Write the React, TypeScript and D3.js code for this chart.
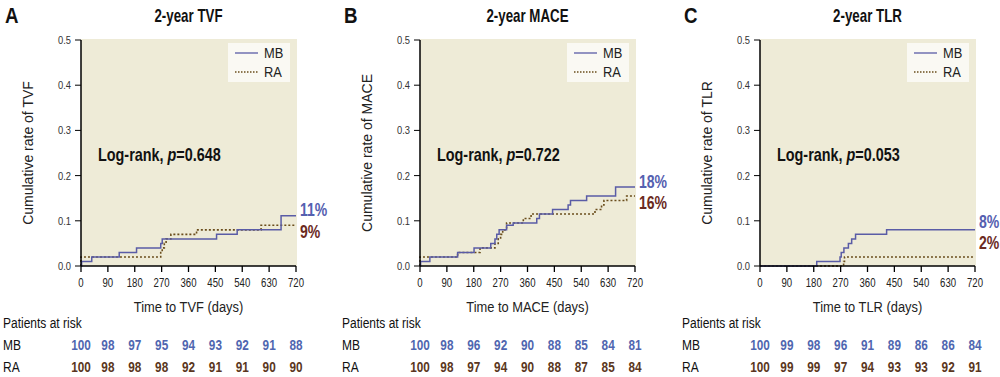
import React from "react";
import * as d3 from "d3";

// ---------- data ----------
const riskTimes = [0, 90, 180, 270, 360, 450, 540, 630, 720];
const xTicks = [0, 90, 180, 270, 360, 450, 540, 630, 720];
const yTicks = [0.0, 0.1, 0.2, 0.3, 0.4, 0.5];

// TVF
const tvfMbTime = [0, 2, 36, 128, 186, 267, 272, 454, 523, 670, 720];
const tvfMbRate = [0, 0.01, 0.02, 0.03, 0.04, 0.05, 0.06, 0.07, 0.08, 0.111, 0.111];
const tvfRaTime = [0, 0, 267, 272, 279, 285, 301, 387, 603, 720];
const tvfRaRate = [0, 0.02, 0.03, 0.04, 0.05, 0.06, 0.07, 0.08, 0.09, 0.09];
const tvfRiskMb = [100, 98, 97, 95, 94, 93, 92, 91, 88];
const tvfRiskRa = [100, 98, 98, 98, 92, 91, 91, 90, 90];

// MACE
const maceMbTime = [0, 2, 33, 126, 181, 237, 251, 257, 265, 290, 312, 391, 400, 444, 496, 504, 558, 655, 720];
const maceMbRate = [0, 0.01, 0.02, 0.03, 0.04, 0.05, 0.06, 0.07, 0.08, 0.09, 0.095, 0.105, 0.115, 0.125, 0.135, 0.145, 0.155, 0.175, 0.175];
const maceRaTime = [0, 0, 126, 201, 251, 262, 270, 277, 290, 346, 372, 586, 608, 616, 692, 720];
const maceRaRate = [0, 0.02, 0.03, 0.04, 0.05, 0.06, 0.07, 0.08, 0.095, 0.105, 0.115, 0.125, 0.135, 0.145, 0.155, 0.155];
const maceRiskMb = [100, 98, 96, 92, 90, 88, 85, 84, 81];
const maceRiskRa = [100, 98, 97, 94, 90, 88, 87, 85, 84];

// TLR
const tlrMbTime = [0, 190, 268, 272, 281, 296, 307, 320, 424, 720];
const tlrMbRate = [0, 0.01, 0.02, 0.03, 0.04, 0.05, 0.06, 0.07, 0.08, 0.08];
const tlrRaTime = [0, 280, 283, 720];
const tlrRaRate = [0, 0.01, 0.02, 0.02];
const tlrRiskMb = [100, 99, 98, 96, 91, 89, 86, 86, 84];
const tlrRiskRa = [100, 99, 99, 97, 94, 93, 93, 92, 91];

const panelLetters = ["A", "B", "C"];
const panelTitles = ["2-year TVF", "2-year MACE", "2-year TLR"];
const endpointNames = ["TVF", "MACE", "TLR"];
const pValues = ["0.648", "0.722", "0.053"];
const mbPercents = ["11%", "18%", "8%"];
const raPercents = ["9%", "16%", "2%"];

// ---------- style ----------
const FONT = "'Liberation Sans', Arial, Helvetica, sans-serif";
const MB_COLOR = "#5a5ca6";
const RA_COLOR = "#6a4d1c";
const MB_TEXT = "#4f66b0";
const RA_TEXT = "#5a3620";
const PCT_MB = "#5560b0";
const PCT_RA = "#6b2a1e";
const FILL = "#eeebd7";

const panels = [
  { left: 81, mb: [tvfMbTime, tvfMbRate], ra: [tvfRaTime, tvfRaRate], riskMb: tvfRiskMb, riskRa: tvfRiskRa, pctMbY: 216, pctRaY: 238 },
  { left: 420, mb: [maceMbTime, maceMbRate], ra: [maceRaTime, maceRaRate], riskMb: maceRiskMb, riskRa: maceRiskRa, pctMbY: 188, pctRaY: 209 },
  { left: 760, mb: [tlrMbTime, tlrMbRate], ra: [tlrRaTime, tlrRaRate], riskMb: tlrRiskMb, riskRa: tlrRiskRa, pctMbY: 228, pctRaY: 249 },
];

const PW = 215;
const TOP = 40;
const BOTTOM = 266;

type TProps = {
  x: number;
  y: number;
  sx?: number;
  size: number;
  bold?: boolean;
  anchor?: "start" | "middle" | "end";
  fill?: string;
  children: React.ReactNode;
};

function T({ x, y, sx = 0.78, size, bold, anchor = "start", fill = "#111", children }: TProps) {
  return (
    <text
      transform={`translate(${x},${y}) scale(${sx},1)`}
      textAnchor={anchor}
      fontFamily={FONT}
      fontSize={size}
      fontWeight={bold ? "bold" : "normal"}
      fill={fill}
    >
      {children}
    </text>
  );
}

function Panel({ i }: { i: number }) {
  const p = panels[i];
  const x = d3.scaleLinear().domain([0, 720]).range([p.left, p.left + PW]);
  const y = d3.scaleLinear().domain([0, 0.5]).range([BOTTOM, TOP]);
  const line = d3
    .line<[number, number]>()
    .x((d) => x(d[0]))
    .y((d) => y(d[1]))
    .curve(d3.curveStepAfter);
  const mbPts = p.mb[0].map((t, k) => [t, p.mb[1][k]] as [number, number]);
  const raPts = p.ra[0].map((t, k) => [t, p.ra[1][k]] as [number, number]);
  const cx = p.left + PW / 2;
  const legX = p.left + PW - 68;
  const labelX = p.left - 78;
  return (
    <g>
      <T x={p.left - 76} y={23} size={22} sx={0.85} bold>
        {panelLetters[i]}
      </T>
      <T x={cx} y={22} size={18} sx={0.74} bold anchor="middle">
        {panelTitles[i]}
      </T>
      <rect x={p.left} y={TOP - 1} width={PW + 1} height={BOTTOM - TOP + 1} fill={FILL} />
      {/* legend */}
      <rect x={legX} y={43} width={62} height={39} fill="#faf9f3" />
      <line x1={legX + 7} x2={legX + 30} y1={53} y2={53} stroke={MB_COLOR} strokeWidth={1.3} />
      <T x={legX + 36} y={58} size={14} sx={0.92} fill="#222">MB</T>
      <line x1={legX + 7} x2={legX + 30} y1={72} y2={72} stroke={RA_COLOR} strokeWidth={1.3} strokeDasharray="1.5,1.5" />
      <T x={legX + 36} y={77} size={14} sx={0.92} fill="#222">RA</T>
      {/* log-rank */}
      <T x={p.left + 17} y={161} size={18} sx={0.8} bold>
        Log-rank, <tspan fontStyle="italic">p</tspan>={pValues[i]}
      </T>
      {/* curves */}
      <path d={line(raPts) || ""} fill="none" stroke={RA_COLOR} strokeWidth={1.6} strokeDasharray="2,2" />
      <path d={line(mbPts) || ""} fill="none" stroke={MB_COLOR} strokeWidth={1.5} />
      {/* axes */}
      <line x1={p.left} x2={p.left} y1={TOP} y2={BOTTOM} stroke="#000" strokeWidth={1.5} />
      <line x1={p.left} x2={p.left + PW} y1={BOTTOM} y2={BOTTOM} stroke="#000" strokeWidth={1.5} />
      {yTicks.map((t) => (
        <g key={"y" + t}>
          <line x1={p.left - 6} x2={p.left} y1={y(t)} y2={y(t)} stroke="#000" strokeWidth={1} />
          <T x={p.left - 10} y={y(t) + 4} size={11} sx={0.85} anchor="end" fill="#333">
            {t.toFixed(1)}
          </T>
        </g>
      ))}
      {xTicks.map((t) => (
        <g key={"x" + t}>
          <line x1={x(t)} x2={x(t)} y1={BOTTOM} y2={BOTTOM + 6} stroke="#000" strokeWidth={1.3} />
          <T x={x(t)} y={BOTTOM + 21} size={12} sx={0.8} anchor="middle" fill="#222">
            {t}
          </T>
        </g>
      ))}
      <text
        transform={`translate(${p.left - 48},${(TOP + BOTTOM) / 2}) rotate(-90)`}
        textAnchor="middle"
        fontFamily={FONT}
        fontSize={14}
        fill="#222"
      >
        Cumulative rate of {endpointNames[i]}
      </text>
      <T x={cx} y={312} size={14} sx={0.92} anchor="middle" fill="#222">
        Time to {endpointNames[i]} (days)
      </T>
      {/* percent labels */}
      <T x={p.left + PW + 4} y={p.pctMbY} size={18} sx={0.78} bold fill={PCT_MB}>
        {mbPercents[i]}
      </T>
      <T x={p.left + PW + 4} y={p.pctRaY} size={18} sx={0.78} bold fill={PCT_RA}>
        {raPercents[i]}
      </T>
      {/* risk table */}
      <T x={labelX} y={328} size={15} sx={0.8}>Patients at risk</T>
      <T x={labelX} y={350} size={15} sx={0.8}>MB</T>
      <T x={labelX} y={372} size={15} sx={0.8}>RA</T>
      {riskTimes.map((t, k) => (
        <g key={"r" + t}>
          <T x={x(t)} y={350} size={15.5} sx={0.76} bold anchor="middle" fill={MB_TEXT}>
            {p.riskMb[k]}
          </T>
          <T x={x(t)} y={372} size={15.5} sx={0.76} bold anchor="middle" fill={RA_TEXT}>
            {p.riskRa[k]}
          </T>
        </g>
      ))}
    </g>
  );
}

export default function App() {
  return (
    <svg
      width={1000}
      height={377}
      style={{ position: "absolute", left: 0, top: 0, background: "#fff" }}
    >
      {[0, 1, 2].map((i) => (
        <Panel key={i} i={i} />
      ))}
    </svg>
  );
}
